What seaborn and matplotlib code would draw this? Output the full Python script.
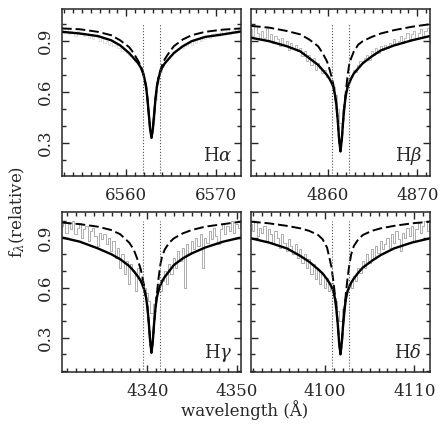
import numpy as np
import matplotlib
matplotlib.use('Agg')
import matplotlib.pyplot as plt
import seaborn as sns
from matplotlib.ticker import MultipleLocator

sns.set_style('ticks')
plt.rcParams['font.family'] = ['DejaVu Serif']
plt.rcParams['mathtext.fontset'] = 'dejavuserif'
plt.rcParams['xtick.direction'] = 'in'
plt.rcParams['ytick.direction'] = 'in'

# line centres (Angstrom) and panel names
centres = [6562.8, 4861.4, 4340.45, 4101.75]
names = [r'H$\alpha$', r'H$\beta$', r'H$\gamma$', r'H$\delta$']

# offsets from line centre for the model curves
model_off = [-10, -8, -6, -4.5, -3.5, -2.5, -2.0, -1.5, -1.2, -1.0, -0.8, -0.6, -0.45, -0.3, -0.15, 0,
             0.15, 0.3, 0.45, 0.6, 0.8, 1.0, 1.2, 1.5, 2.0, 2.5, 3.5, 4.5, 6, 8, 10]

# solid model curves
solid_ha = [0.955, 0.945, 0.93, 0.905, 0.875, 0.83, 0.80, 0.77, 0.745, 0.72, 0.685, 0.63, 0.56, 0.47, 0.38, 0.33,
            0.38, 0.47, 0.56, 0.63, 0.685, 0.72, 0.745, 0.77, 0.80, 0.83, 0.87, 0.90, 0.925, 0.94, 0.957]
solid_hb = [0.92, 0.90, 0.87, 0.84, 0.80, 0.76, 0.73, 0.70, 0.675, 0.655, 0.63, 0.58, 0.52, 0.43, 0.32, 0.25,
            0.32, 0.43, 0.52, 0.58, 0.63, 0.655, 0.68, 0.71, 0.74, 0.77, 0.81, 0.845, 0.875, 0.905, 0.93]
solid_hg = [0.90, 0.875, 0.835, 0.80, 0.77, 0.73, 0.70, 0.665, 0.64, 0.615, 0.585, 0.54, 0.48, 0.39, 0.28, 0.21,
            0.28, 0.39, 0.48, 0.54, 0.585, 0.615, 0.64, 0.665, 0.70, 0.735, 0.775, 0.805, 0.84, 0.875, 0.90]
solid_hd = [0.895, 0.87, 0.835, 0.79, 0.755, 0.71, 0.685, 0.65, 0.625, 0.605, 0.58, 0.53, 0.465, 0.38, 0.27, 0.20,
            0.27, 0.38, 0.465, 0.53, 0.58, 0.605, 0.63, 0.655, 0.69, 0.72, 0.76, 0.795, 0.835, 0.87, 0.895]

# dashed model curves
dash_ha = [0.975, 0.97, 0.955, 0.935, 0.905, 0.865, 0.83, 0.785, 0.755, 0.725, 0.685, 0.63, 0.56, 0.47, 0.38, 0.33,
           0.38, 0.47, 0.56, 0.63, 0.69, 0.73, 0.76, 0.795, 0.835, 0.87, 0.91, 0.935, 0.955, 0.968, 0.975]
dash_hb = [0.99, 0.98, 0.96, 0.94, 0.91, 0.87, 0.83, 0.78, 0.73, 0.69, 0.645, 0.58, 0.52, 0.43, 0.32, 0.25,
           0.32, 0.43, 0.52, 0.60, 0.70, 0.77, 0.80, 0.84, 0.88, 0.90, 0.925, 0.945, 0.965, 0.985, 1.0]
dash_hg = [0.99, 0.98, 0.965, 0.945, 0.92, 0.87, 0.83, 0.76, 0.71, 0.66, 0.60, 0.54, 0.48, 0.39, 0.28, 0.21,
           0.28, 0.39, 0.48, 0.56, 0.66, 0.74, 0.79, 0.83, 0.87, 0.895, 0.925, 0.945, 0.965, 0.98, 0.995]
dash_hd = [0.995, 0.985, 0.97, 0.955, 0.94, 0.915, 0.89, 0.84, 0.77, 0.72, 0.64, 0.55, 0.475, 0.38, 0.27, 0.20,
           0.27, 0.38, 0.475, 0.56, 0.66, 0.74, 0.80, 0.85, 0.89, 0.915, 0.94, 0.955, 0.97, 0.985, 0.995]

# observed spectra, sampled every 0.25 A from -10 to +10 A
obs_off = np.linspace(-10, 10, 81)
obs_ha = [0.98, 0.95, 0.97, 0.94, 0.96, 0.95, 0.93, 0.96, 0.94, 0.95, 0.93, 0.94, 0.92, 0.94, 0.91, 0.93, 0.92, 0.90, 0.92, 0.89,
          0.90, 0.88, 0.89, 0.87, 0.88, 0.86, 0.86, 0.84, 0.85, 0.83, 0.82, 0.81, 0.80, 0.78, 0.77, 0.75, 0.72, 0.66, 0.55, 0.44,
          0.36,
          0.44, 0.55, 0.66, 0.72, 0.75, 0.77, 0.79, 0.80, 0.82, 0.83, 0.84, 0.85, 0.86, 0.86, 0.88, 0.87, 0.89, 0.88, 0.90, 0.89,
          0.91, 0.90, 0.92, 0.91, 0.93, 0.92, 0.94, 0.93, 0.95, 0.93, 0.96, 0.94, 0.95, 0.97, 0.94, 0.96, 0.98, 0.95, 0.97, 0.96]
obs_hb = [0.97, 0.93, 0.99, 0.95, 0.91, 0.96, 0.92, 0.98, 0.90, 0.94, 0.89, 0.93, 0.91, 0.87, 0.92, 0.88, 0.90, 0.85, 0.89, 0.86,
          0.88, 0.84, 0.86, 0.81, 0.84, 0.78, 0.82, 0.76, 0.80, 0.73, 0.77, 0.74, 0.71, 0.73, 0.69, 0.68, 0.66, 0.63, 0.58, 0.50,
          0.42,
          0.50, 0.58, 0.64, 0.68, 0.70, 0.73, 0.72, 0.76, 0.78, 0.77, 0.80, 0.82, 0.79, 0.84, 0.82, 0.86, 0.83, 0.87, 0.85, 0.88,
          0.86, 0.89, 0.87, 0.91, 0.88, 0.90, 0.93, 0.89, 0.92, 0.95, 0.91, 0.94, 0.96, 0.92, 0.95, 0.97, 0.93, 0.96, 0.98, 0.95]
obs_hg = [0.97, 0.99, 0.93, 0.98, 0.95, 1.00, 0.92, 0.96, 0.99, 0.90, 0.95, 0.97, 0.88, 0.94, 0.96, 0.91, 0.85, 0.93, 0.89, 0.92,
          0.86, 0.90, 0.82, 0.88, 0.78, 0.84, 0.72, 0.80, 0.68, 0.76, 0.62, 0.74, 0.70, 0.58, 0.72, 0.66, 0.63, 0.60, 0.57, 0.52,
          0.45,
          0.50, 0.55, 0.60, 0.58, 0.64, 0.70, 0.62, 0.74, 0.68, 0.78, 0.72, 0.82, 0.76, 0.84, 0.60, 0.86, 0.80, 0.88, 0.83, 0.90,
          0.85, 0.92, 0.72, 0.90, 0.87, 0.94, 0.89, 0.96, 0.91, 0.86, 0.95, 0.98, 0.92, 0.97, 0.94, 1.00, 0.93, 0.98, 0.96, 0.99]
obs_hd = [0.98, 0.94, 1.00, 0.91, 0.96, 0.93, 0.97, 0.88, 0.95, 0.92, 0.86, 0.94, 0.90, 0.84, 0.92, 0.87, 0.82, 0.89, 0.85, 0.80,
          0.86, 0.78, 0.83, 0.75, 0.80, 0.72, 0.77, 0.68, 0.74, 0.65, 0.71, 0.62, 0.68, 0.60, 0.66, 0.58, 0.63, 0.56, 0.52, 0.46,
          0.40,
          0.47, 0.53, 0.58, 0.62, 0.60, 0.67, 0.64, 0.72, 0.69, 0.76, 0.72, 0.80, 0.75, 0.83, 0.78, 0.85, 0.81, 0.88, 0.83, 0.86,
          0.90, 0.84, 0.92, 0.87, 0.94, 0.89, 0.82, 0.93, 0.90, 0.96, 0.91, 0.97, 0.88, 0.95, 0.99, 0.93, 0.97, 1.00, 0.94, 0.98]

solids = [solid_ha, solid_hb, solid_hg, solid_hd]
dashes = [dash_ha, dash_hb, dash_hg, dash_hd]
observed = [obs_ha, obs_hb, obs_hg, obs_hd]
obs_colors = ['0.88', '0.72', '0.68', '0.68']

fig = plt.figure(figsize=(4.45, 4.25), dpi=100)
positions = [
    [0.1393, 0.586, 0.4022, 0.393],
    [0.564, 0.586, 0.4022, 0.393],
    [0.1393, 0.1247, 0.4022, 0.3765],
    [0.564, 0.1247, 0.4022, 0.3765],
]
ylims = [(0.105, 1.09), (0.105, 1.09), (0.094, 1.053), (0.094, 1.053)]

for i in range(4):
    ax = fig.add_axes(positions[i])
    c = centres[i]
    wl_obs = c + obs_off
    wl_mod = c + np.array(model_off)

    sns.lineplot(x=wl_obs, y=observed[i], ax=ax, color=obs_colors[i], lw=0.7,
                 drawstyle='steps-mid', sort=False)
    sns.lineplot(x=wl_mod, y=dashes[i], ax=ax, color='k', lw=1.4,
                 linestyle=(0, (5, 2)), sort=False)
    sns.lineplot(x=wl_mod, y=solids[i], ax=ax, color='k', lw=1.7, sort=False)
    ax.vlines([c - 1.0, c + 1.0], ylims[i][0], 1.0, colors='0.3', linestyles=':', lw=0.8)

    ax.set_xlim(c - 10, c + 10)
    ax.set_ylim(*ylims[i])
    ax.xaxis.set_major_locator(MultipleLocator(10))
    ax.xaxis.set_minor_locator(MultipleLocator(1))
    ax.yaxis.set_major_locator(MultipleLocator(0.3))
    ax.yaxis.set_minor_locator(MultipleLocator(0.1))
    ax.set_yticks([0.3, 0.6, 0.9])
    ax.set_yticklabels(['0.3', '0.6', '0.9'])
    ax.tick_params(which='both', top=True, right=True, width=1.0, labelsize=12)
    ax.tick_params(which='major', length=5)
    ax.tick_params(which='minor', length=3)
    ax.tick_params(axis='x', pad=8)
    ax.tick_params(axis='y', labelrotation=90, pad=6)
    for lab in ax.get_yticklabels():
        lab.set_va('center')
    if i % 2 == 1:
        ax.set_yticklabels([])
    for s in ax.spines.values():
        s.set_linewidth(1.1)
    ax.set_xlabel('')
    ax.set_ylabel('')
    ax.text(0.955, 0.09, names[i], transform=ax.transAxes, ha='right', va='baseline', fontsize=13)

fig.text(0.04, 0.5, r'f$_\lambda$(relative)', rotation=90, ha='center', va='center', fontsize=12)
fig.text(0.55, 0.035, 'wavelength (Å)', ha='center', va='center', fontsize=12)

fig.savefig('out.png', dpi=100)
